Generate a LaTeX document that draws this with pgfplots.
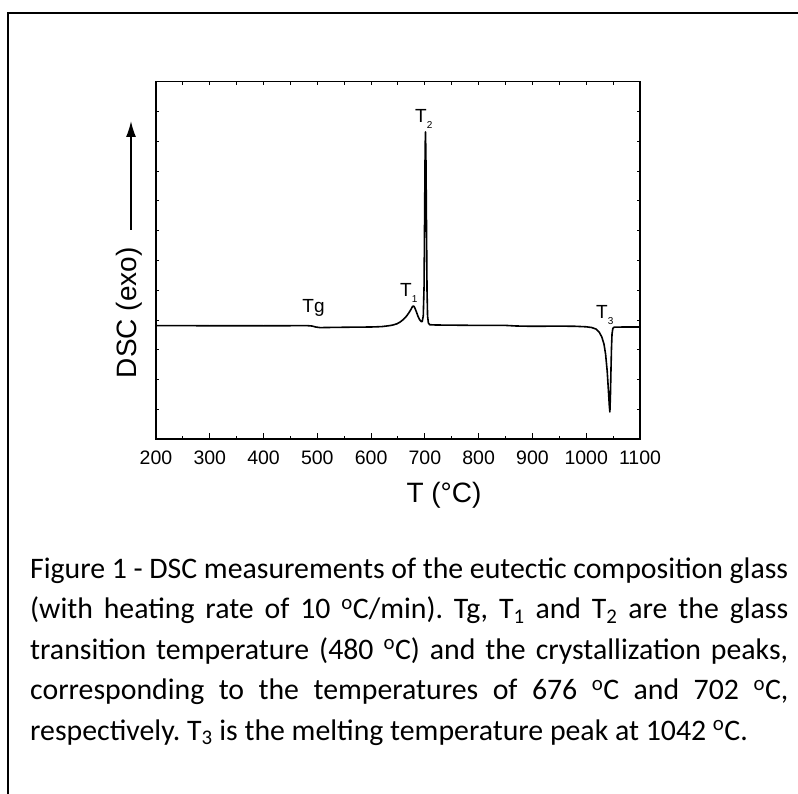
\documentclass[border=0pt]{standalone}
\usepackage{fontspec}
\setmainfont{Liberation Sans}
\newfontfamily\calibri{Carlito}
\usepackage{pgfplots}
\pgfplotsset{compat=1.18}
\usetikzlibrary{arrows.meta}

\pgfplotstableread{
T y
200 0.3
250 0.4
300 0.2
350 0.3
400 0.2
450 0.3
480 0.4
490 0.0
497 -1.0
505 -1.6
530 -1.4
560 -1.2
600 -1.0
620 -0.6
632 0.2
640 0.9
648 2.2
654 4.0
660 6.5
666 10.0
670 13.0
674 16.5
677 19.5
679 20.0
681 18.5
684 14.5
687 10.0
690 6.5
693 4.5
695 4.5
697 10
698.5 40
699.5 110
700.5 180
701.2 194
702 165
703 100
704 35
705 10
706.5 3
709 1.3
720 1.0
760 0.8
800 0.6
850 0.6
870 0
900 -0.3
950 -0.1
980 -0.3
1000 -0.8
1010 -1.5
1018 -3
1024 -6
1029 -11
1033 -18
1036 -28
1039 -45
1041 -62
1043 -80
1044 -86
1045 -70
1046 -45
1047 -22
1048 -8
1049.5 -2.5
1052 -1.2
1070 -1.0
1100 -1.0
}\dsc

\begin{document}
\frenchspacing
\begin{tikzpicture}
\useasboundingbox (0,0) rectangle (798pt,-794pt);
\fill[white] (0,0) rectangle (798pt,-794pt);
% outer frame
\draw[line width=2pt] (8pt,-794pt) -- (8pt,-13pt) -- (798pt,-13pt);

\pgfplotsset{
  dscaxis/.style={
    at={(156pt,-81.7pt)}, anchor=north west,
    scale only axis, width=484pt, height=357.3pt,
    xmin=200, xmax=1100, ymin=-113, ymax=244.3,
    axis line style={line width=1.2pt},
    tick style={line width=1pt, black},
    tick align=inside,
  }
}

% tick overlay (top ticks every 50, y ticks both sides)
\begin{axis}[dscaxis,
  xtick={200,250,...,1100}, xtick pos=upper, xticklabels={},
  ytick={214.5,184.7,154.9,125.1,95.3,65.5,35.7,5.9,-23.9,-53.7,-83.5},
  ytick pos=both, yticklabels={},
  major tick length=3pt,
]
\end{axis}

\begin{axis}[dscaxis,
  xtick={200,300,...,1100}, minor x tick num=1, xtick pos=lower,
  major tick length=6pt, minor tick length=3pt,
  ytick=\empty,
  xticklabel={\fontsize{19.5}{19.5}\selectfont\pgfmathprintnumber[assume math mode=true,1000 sep={}]{\tick}},
  xticklabel style={inner sep=0pt, anchor=north, yshift=-12pt},
  xlabel={T (°C)},
  every axis x label/.style={at={(axis description cs:0.595,0)}, anchor=base, yshift=-63.6pt, font=\fontsize{28}{28}\selectfont},
  ylabel={DSC (exo)},
  every axis y label/.style={at={(axis description cs:-0.0399,0.17)}, anchor=base west, rotate=90, inner sep=0pt, font=\fontsize{28}{28}\selectfont},
]
\addplot[black, line width=1.6pt, line join=round] table[x=T, y=y] {\dsc};

\node[anchor=base west, inner sep=0pt, font=\fontsize{19}{19}\selectfont] at (axis cs:472,13.3) {Tg};
\node[anchor=base west, inner sep=0pt, font=\fontsize{19}{19}\selectfont] at (axis cs:653.7,29.3) {T\raisebox{-6pt}{\fontsize{10}{10}\selectfont 1}};
\node[anchor=base west, inner sep=0pt, font=\fontsize{19}{19}\selectfont] at (axis cs:681.6,203) {T\raisebox{-6pt}{\fontsize{10}{10}\selectfont 2}};
\node[anchor=base west, inner sep=0pt, font=\fontsize{19}{19}\selectfont] at (axis cs:1018.2,7.7) {T\raisebox{-6pt}{\fontsize{10}{10}\selectfont 3}};
\end{axis}

% y-label arrow
\draw[line width=1.6pt, -{Latex[length=16pt,width=10pt]}] (131pt,-230pt) -- (131pt,-121pt);

% caption
\node[anchor=base west, inner sep=0pt] at (30pt,-578pt) {%
\parbox[t]{758pt}{\calibri\fontsize{29.8}{40.5}\selectfont\baselineskip=40.5pt\lineskiplimit=-20pt\frenchspacing
\makebox[758pt][s]{Figure 1 - DSC measurements of the eutectic composition glass}\\
\makebox[758pt][s]{(with heating rate of 10 \textsuperscript{o}C/min). Tg, T\textsubscript{1} and T\textsubscript{2} are the glass}\\
\makebox[758pt][s]{transition temperature (480 \textsuperscript{o}C) and the crystallization peaks,}\\
\makebox[758pt][s]{corresponding to the temperatures of 676 \textsuperscript{o}C and 702 \textsuperscript{o}C,}\\
respectively. T\textsubscript{3} is the melting temperature peak at 1042 \textsuperscript{o}C.}};
\end{tikzpicture}
\end{document}
